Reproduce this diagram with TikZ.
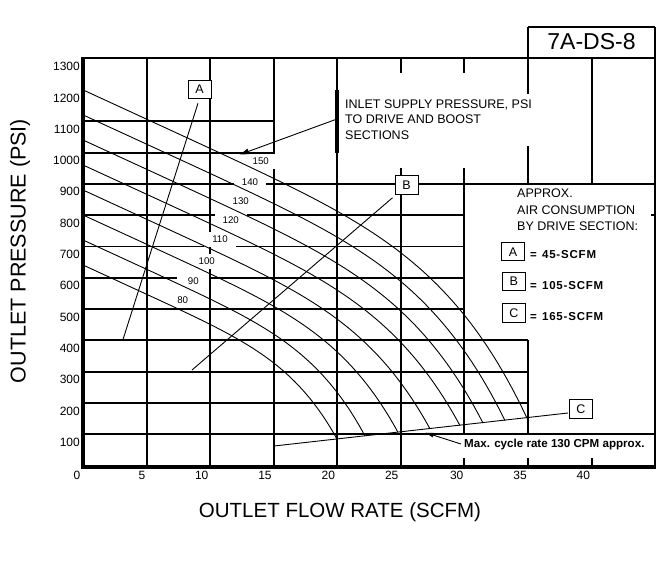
\documentclass[tikz,border=0pt]{standalone}
\usepackage{fontspec}
\setmainfont{Liberation Sans}
\newfontfamily\legendfont[LetterSpace=7]{Liberation Sans}
\usetikzlibrary{arrows.meta}
\begin{document}
\begin{tikzpicture}[x=1pt,y=-1pt,
  gridk/.style={line width=2pt},
  gridt/.style={line width=1.2pt},
  axisline/.style={line width=4pt},
  bracket/.style={line width=3.5pt},
  curve/.style={line width=0.9pt},
  leader/.style={line width=0.9pt},
  ticklabel/.style={font=\fontsize{12}{14}\selectfont, inner sep=0pt},
  clabel/.style={fill=white, inner sep=0pt, minimum width=32pt, minimum height=15pt, font=\fontsize{9.7}{11}\selectfont},
  letterbox/.style={draw, line width=1pt, fill=white, minimum width=23pt, minimum height=18.5pt, inner sep=0pt, font=\fontsize{12.5}{14}\selectfont},
  note/.style={font=\fontsize{12.5}{15.5}\selectfont, align=left, inner sep=0pt},
  legendtext/.style={font=\legendfont\bfseries\fontsize{11.5}{14}\selectfont, inner sep=0pt, anchor=west},
  axistitle/.style={font=\fontsize{21.5}{24}\selectfont, inner sep=0pt},
]
\useasboundingbox (0,0) rectangle (665,571);

% ---------- grid: horizontal ----------
\draw[gridk] (83,58.4) -- (655,58.4);
\draw[gridk] (528,27.3) -- (655,27.3);
\draw[gridk] (83,121.2) -- (274,121.2);
\draw[gridk] (83,152.5) -- (274,152.5);
\draw[gridk] (83,183.8) -- (655,183.8);
\draw[gridk] (83,215.1) -- (464,215.1);
\draw[gridt] (83,246.4) -- (464,246.4);
\draw[gridk] (83,277.7) -- (464,277.7);
\draw[gridk] (83,309) -- (464,309);
\draw[gridk] (83,340.3) -- (528,340.3);
\draw[gridk] (83,371.6) -- (528,371.6);
\draw[gridt] (83,402.9) -- (528,402.9);
\draw[gridk] (83,434.2) -- (655,434.2);

% ---------- grid: vertical ----------
\draw[gridt] (147,58.4) -- (147,467);
\draw[gridk] (210,58.4) -- (210,467);
\draw[gridk] (274,58.4) -- (274,467);
\draw[gridk] (337,58.4) -- (337,467);
\draw[gridk] (401,58.4) -- (401,73);
\draw[gridk] (401,168) -- (401,467);
\draw[gridk] (464,58.4) -- (464,73);
\draw[gridk] (464,168) -- (464,434.2);
\draw[gridk] (464,458) -- (464,467);
\draw[gridk] (528,27.3) -- (528,94);
\draw[gridk] (528,146) -- (528,183.8);
\draw[gridk] (528,340.3) -- (528,434.2);
\draw[gridk] (528,458) -- (528,467);
\draw[gridk] (592,58.4) -- (592,183.8);
\draw[gridk] (592,458) -- (592,467);
\draw[gridk] (655,27.3) -- (655,467);
\draw[gridk] (651,215.1) -- (655,215.1);

% inlet bracket
\draw[bracket] (337,90) -- (337,152.5);

% ---------- curve labels (white boxes break the grid) ----------
\node[clabel] (l150) at (260.7,161) {150};
\node[clabel] (l140) at (250,182) {140};
\node[clabel] (l130) at (240.7,201) {130};
\node[clabel] (l120) at (230.7,220) {120};
\node[clabel] (l110) at (220,239.5) {110};
\node[clabel] (l100) at (206.7,261) {100};
\node[clabel] (l90) at (193.3,280.7) {90};
\node[clabel] (l80) at (182.7,300) {80};

% ---------- performance curves ----------
\foreach \yz/\xe in {89.9/527,114.9/505,140/483,165/460,190/430,215/398,240/365,265/337}{
  \pgfmathsetmacro\ye{446-0.11*(\xe-274)}
  \pgfmathsetmacro\dd{\ye-\yz-0.46*(\xe-83)}
  \draw[curve] plot[domain=83.5:\xe,samples=90] (\x,{\yz+0.46*(\x-83)+\dd*((\x-83)/(\xe-83))^6});
}

% ---------- axes ----------
\draw[axisline] (83,57.4) -- (83,469);
\draw[axisline] (81,467) -- (656,467);

% ---------- tick labels ----------
\foreach \v/\yy in {1300/58.4,1200/89.9,1100/121.2,1000/152.5,900/183.8,800/215.1,700/246.4,600/277.7,500/309,400/340.3,300/371.6,200/402.9,100/434.2}{
  \node[ticklabel, anchor=east] (ty\v) at (80,\yy+8) {\v};
}
\foreach \v/\xx in {0/77,5/142,10/201.7,15/265,20/328.3,25/391.7,30/456.7,35/520,40/583.3}{
  \node[ticklabel] (tx\v) at (\xx,475) {\v};
}

% ---------- title ----------
\node[font=\fontsize{23}{26}\selectfont, inner sep=0pt] (title) at (591.5,42) {7A-DS-8};

% ---------- inlet supply note ----------
\node[note, anchor=west] (inlet) at (345,119.5) {INLET SUPPLY PRESSURE, PSI\\TO DRIVE AND BOOST\\SECTIONS};
\coordinate (inletfrom) at (337,119);
\coordinate (inletto) at (240,154.5);
\draw[leader, -{Triangle[length=9pt,width=5.5pt]}] (inletfrom) -- (inletto);

% ---------- approx air consumption ----------
\node[note, anchor=west, font=\fontsize{12.5}{16.5}\selectfont] (approx) at (517,210) {APPROX.\\AIR CONSUMPTION\\BY DRIVE SECTION:};
\node[letterbox] (legA) at (513,251.7) {A};
\node[letterbox] (legB) at (513.8,281.5) {B};
\node[letterbox] (legC) at (513.8,312.8) {C};
\node[legendtext] (legAt) at (530,255) {=\hspace{0.45em}45-SCFM};
\node[legendtext] (legBt) at (530,285.3) {=\hspace{0.45em}105-SCFM};
\node[legendtext] (legCt) at (530,316.7) {=\hspace{0.45em}165-SCFM};

% ---------- leader lines for A, B, C ----------
\coordinate (aend) at (123,339.5);
\coordinate (bend) at (192,370);
\coordinate (cend) at (274,446);
\node[letterbox] (boxA) at (199.5,89.5) {A};
\node[letterbox] (boxB) at (406.5,185) {B};
\node[letterbox] (boxC) at (581,409) {C};
\draw[leader] ([xshift=-1.5pt,yshift=-4pt]boxA.south) -- (aend);
\draw[leader] ([xshift=-2pt,yshift=-3pt]boxB.south west) -- (bend);
\draw[leader] ([xshift=-1pt,yshift=-4pt]boxC.west) -- (cend);

% ---------- max cycle rate ----------
\node[font=\bfseries\fontsize{11.6}{14}\selectfont, inner sep=0pt, anchor=west] (maxc) at (464,444) {Max. cycle rate 130 CPM approx.};
\coordinate (maxtip) at (425.7,432.7);
\draw[leader, -{Triangle[length=8pt,width=4.5pt]}] ([xshift=-3pt]maxc.west) -- (maxtip);

% ---------- axis titles ----------
\node[axistitle, rotate=90] (ytitle) at (20,251) {OUTLET PRESSURE (PSI)};
\node[axistitle, font=\fontsize{20.5}{24}\selectfont] (xtitle) at (340,512) {OUTLET FLOW RATE (SCFM)};
\end{tikzpicture}
\end{document}
